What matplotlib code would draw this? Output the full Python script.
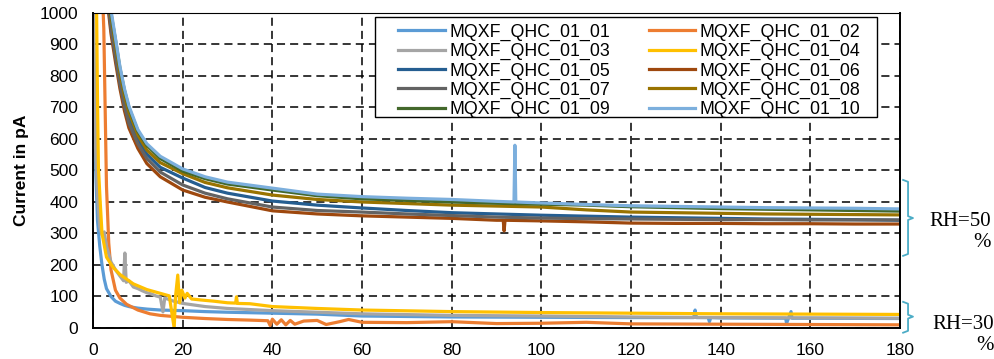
import matplotlib
matplotlib.use('Agg')
import matplotlib.pyplot as plt
from matplotlib.patches import Rectangle

plt.rcParams['font.family'] = ['Liberation Sans', 'DejaVu Sans']

# ---- data (current in pA) ----
names = ['MQXF_QHC_01_01', 'MQXF_QHC_01_02', 'MQXF_QHC_01_03', 'MQXF_QHC_01_04',
         'MQXF_QHC_01_05', 'MQXF_QHC_01_06', 'MQXF_QHC_01_07', 'MQXF_QHC_01_08',
         'MQXF_QHC_01_09', 'MQXF_QHC_01_10']
colors = ['#5B9BD5', '#ED7D31', '#A5A5A5', '#FFC000', '#255E91',
          '#9E480E', '#636363', '#997300', '#43682B', '#7CAFDD']

# RH=30 group
t01 = [0, 0.3, 0.6, 1, 1.5, 2, 2.5, 3, 4, 5, 6, 7, 8, 10, 12, 15, 20, 25, 30, 40, 50,
       60, 80, 100, 120, 134.0, 134.3, 134.6, 137.2, 137.5, 137.8, 140, 154.5, 154.7, 155.7, 155.9, 160, 180]
i01 = [1100, 800, 500, 340, 260, 200, 155, 125, 100, 85, 78, 72, 68, 63, 60, 57, 55, 52, 50, 47, 44,
       38, 35, 34, 33, 33, 57, 33, 33, 20, 33, 32, 31, 15, 52, 31, 31, 30]

t02 = [2.0, 2.4, 2.7, 3.0, 3.5, 4, 5, 6, 7.5, 10, 12.7, 15, 20, 25, 30, 35, 39, 39.5, 40, 41, 42, 43, 44,
       45, 47, 50, 52, 55, 57, 60, 70, 80, 90, 100, 110, 120, 140, 160, 180]
i02 = [1100, 950, 700, 450, 270, 185, 120, 95, 75, 57, 45, 40, 34, 30, 27, 25, 23, 8, 28, 12, 26, 10, 24,
       12, 22, 24, 11, 20, 27, 18, 17, 20, 14, 15, 18, 13, 12, 11, 10]

t03 = [0, 0.3, 0.6, 1, 1.5, 2, 2.5, 3, 4, 5, 6, 6.8, 7.1, 7.4, 8, 9, 10, 11, 12, 13, 14, 15, 15.6, 16,
       17, 18, 20, 25, 30, 40, 50, 60, 80, 100, 120, 140, 160, 180]
i03 = [1100, 750, 560, 420, 320, 295, 305, 260, 210, 185, 165, 150, 238, 145, 150, 130, 125, 118, 112,
       108, 102, 98, 51, 95, 90, 85, 78, 68, 62, 55, 50, 45, 40, 38, 35, 33, 32, 31]

t04 = [0.5, 0.8, 1.0, 1.2, 1.6, 2, 3, 4.5, 6, 9, 12, 15, 17, 18.1, 18.4, 18.9, 19.3, 19.8, 20.5, 21, 22,
       24, 27, 30, 31.8, 32, 32.2, 35, 40, 50, 60, 80, 100, 120, 140, 160, 180]
i04 = [1100, 1000, 720, 510, 400, 300, 225, 192, 170, 140, 122, 110, 102, 0, 100, 168, 80, 120, 95, 110, 92,
       89, 85, 80, 79, 99, 78, 77, 68, 62, 57, 52, 49, 47, 45, 44, 43]

# RH=50 group, common time grid
t_hi = [3, 4, 5, 6, 7, 8, 10, 12, 15, 20, 25, 30, 40, 50, 60, 70, 80, 90, 100,
        110, 120, 130, 140, 150, 160, 170, 180]
i05 = [1100, 970, 880, 795, 725, 670, 600, 552, 510, 476, 446, 428, 403, 390, 381, 373, 366, 362, 358,
       355, 352, 350, 348, 346, 345, 344, 342]
i07 = [1080, 950, 860, 775, 705, 650, 585, 538, 495, 454, 428, 410, 384, 373, 368, 362, 357, 352, 349,
       347, 346, 345, 344, 344, 343, 343, 343]
i08 = [1120, 990, 900, 810, 740, 685, 612, 565, 525, 490, 462, 445, 422, 408, 400, 395, 390, 387, 384,
       375, 368, 366, 364, 362, 361, 360, 359]
i09 = [1150, 1000, 915, 825, 755, 700, 625, 580, 538, 498, 474, 457, 438, 420, 410, 405, 400, 396, 393,
       390, 385, 382, 379, 377, 375, 373, 371]
# 06 and 10 carry a single-sample glitch each
t06 = [3, 4, 5, 6, 7, 8, 10, 12, 15, 20, 25, 30, 40, 50, 60, 70, 80, 90, 91.5, 91.7, 91.9, 100,
       110, 120, 130, 140, 150, 160, 170, 180]
i06 = [1060, 935, 845, 760, 690, 635, 570, 522, 480, 438, 415, 400, 372, 362, 356, 352, 348, 342, 342, 308, 342,
       340, 337, 333, 332, 332, 331, 331, 330, 330]
t10 = [3, 4, 5, 6, 7, 8, 10, 12, 15, 20, 25, 30, 40, 50, 60, 70, 80, 90, 93.9, 94.1, 94.3, 100,
       110, 120, 130, 140, 150, 160, 170, 180]
i10 = [1150, 1010, 920, 830, 760, 705, 630, 585, 545, 505, 480, 463, 444, 425, 417, 412, 408, 402, 400, 580, 400,
       397, 392, 388, 386, 384, 382, 381, 380, 378]

series = [(t01, i01), (t02, i02), (t03, i03), (t04, i04),
          (t_hi, i05), (t06, i06), (t_hi, i07), (t_hi, i08), (t_hi, i09), (t10, i10)]

x_ticks = list(range(0, 181, 20))
y_ticks = list(range(0, 1001, 100))

# bracket spans (y in pA): top, tip, bottom
brackets = [(470, 349, 229), (83, 36, -15)]
rh_labels = ['RH=50\n%', 'RH=30\n%']

fig = plt.figure(figsize=(9.95, 3.59), dpi=100)
ax = fig.add_axes([0.0935, 0.0864, 0.811, 0.8774])

lines = []
for (t, cur), name, c in zip(series, names, colors):
    ln, = ax.plot(t, cur, color=c, lw=2.3, label=name)
    lines.append(ln)

ax.set_xlim(0, 180)
ax.set_ylim(0, 1000)
ax.set_xticks(x_ticks)
ax.set_yticks(y_ticks)
ax.tick_params(labelsize=12.5, length=0, colors='black')
ax.tick_params(axis='x', pad=10.5)
ax.tick_params(axis='y', pad=10.5)
ax.set_ylabel('Current in pA', fontsize=12.5, fontweight='bold', labelpad=8)
ax.grid(True, color='black', lw=1.1, linestyle=(0, (5.3, 3.3)))
ax.set_axisbelow(True)
for side in ax.spines:
    ax.spines[side].set_color('black')
    ax.spines[side].set_linewidth(1.4)
ax.spines['top'].set_linewidth(0.8)

# legend box (Excel style: wide side margins), entries filled row by row
box = Rectangle((0.3494, 0.670), 0.6221, 0.317, transform=ax.transAxes,
                facecolor='white', edgecolor='black', lw=1.0, zorder=4)
ax.add_patch(box)
order = [0, 2, 4, 6, 8, 1, 3, 5, 7, 9]
leg = ax.legend([lines[k] for k in order], [names[k] for k in order],
                ncol=2, loc='upper left', bbox_to_anchor=(0.3785, 0.966),
                fontsize=12.8, frameon=False, handlelength=2.6, handletextpad=0.25,
                columnspacing=2.2, labelspacing=0.12, borderpad=0, borderaxespad=0)
leg.set_zorder(5)

# light blue braces on the right, outside the axes
for (top, tip, bot) in brackets:
    xs = [180.7, 181.8, 181.8, 182.9, 181.8, 181.8, 180.7]
    ys = [top, top - 6, tip + 6, tip, tip - 6, bot + 6, bot]
    ax.plot(xs, ys, color='#4BACC6', lw=1.3, clip_on=False)

fig.text(0.996, 0.355, rh_labels[0], ha='right', va='center', multialignment='right',
         fontsize=15, family='Liberation Serif', linespacing=1.15)
fig.text(0.999, 0.067, rh_labels[1], ha='right', va='center', multialignment='right',
         fontsize=15, family='Liberation Serif', linespacing=1.15)

fig.savefig('out.png', dpi=100)
